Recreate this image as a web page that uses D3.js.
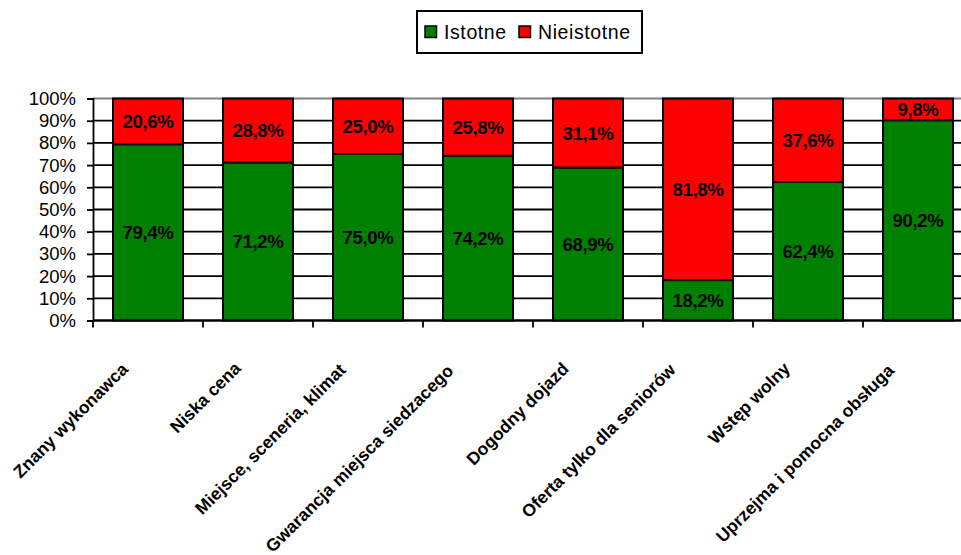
<!DOCTYPE html>
<html>
<head>
<meta charset="utf-8">
<script src="https://cdn.jsdelivr.net/npm/d3@7"></script>
<style>
  html, body { margin: 0; padding: 0; background: #fff; }
  svg { display: block; }
  text { font-family: "Liberation Sans", Arial, sans-serif; }
</style>
</head>
<body>
<svg id="chart" width="961" height="555"></svg>
<script>
// Categories and shares (percent) of respondents
const categories = [
  "Znany wykonawca",
  "Niska cena",
  "Miejsce, sceneria, klimat",
  "Gwarancja miejsca siedzacego",
  "Dogodny dojazd",
  "Oferta tylko dla seniorów",
  "Wstęp wolny",
  "Uprzejma i pomocna obsługa"
];
const istotne    = [79.4, 71.2, 75.0, 74.2, 68.9, 18.2, 62.4, 90.2];
const nieistotne = [20.6, 28.8, 25.0, 25.8, 31.1, 81.8, 37.6, 9.8];
const seriesNames = ["Istotne", "Nieistotne"];
const seriesColors = ["#008000", "#ff0000"];
const yTicks = [0, 10, 20, 30, 40, 50, 60, 70, 80, 90, 100];

const svg = d3.select("#chart");
const plot = { left: 93, right: 973, top: 98.5, bottom: 320.5 };

const x = d3.scaleBand()
  .domain(categories)
  .range([plot.left, plot.right])
  .paddingInner(4 / 11)
  .paddingOuter(2 / 11);

const y = d3.scaleLinear().domain([0, 100]).range([plot.bottom, plot.top]);

const fmt = v => d3.format(".1f")(v).replace(".", ",") + "%";

// Horizontal gridlines
svg.append("g")
  .selectAll("line")
  .data(yTicks)
  .join("line")
  .attr("x1", plot.left)
  .attr("x2", 961)
  .attr("y1", d => y(d))
  .attr("y2", d => y(d))
  .attr("stroke", d => d === 100 ? "#808080" : "#000")
  .attr("stroke-width", 1.8);

// Y axis
const yAxis = svg.append("g")
  .attr("transform", `translate(${plot.left},0)`)
  .call(d3.axisLeft(y).tickValues(yTicks).tickFormat(d => d + "%").tickSize(6).tickPadding(11));
yAxis.select(".domain").attr("stroke", "#000").attr("stroke-width", 1.8);
yAxis.selectAll(".tick line").attr("stroke", "#000").attr("stroke-width", 1.8);
yAxis.selectAll(".tick text")
  .attr("font-size", 18.5)
  .attr("fill", "#000")
  .attr("font-family", "Liberation Sans, Arial, sans-serif");

// Stacked data
const rows = categories.map((c, i) => ({ cat: c, Istotne: istotne[i], Nieistotne: nieistotne[i] }));
const stacked = d3.stack().keys(seriesNames)(rows);

const layers = svg.append("g")
  .selectAll("g")
  .data(stacked)
  .join("g")
  .attr("fill", (d, i) => seriesColors[i]);

layers.selectAll("rect")
  .data(d => d)
  .join("rect")
  .attr("x", d => x(d.data.cat))
  .attr("width", x.bandwidth())
  .attr("y", d => y(d[1]))
  .attr("height", d => y(d[0]) - y(d[1]))
  .attr("stroke", "#000")
  .attr("stroke-width", 2);

// Value labels centred in each segment
layers.selectAll("text")
  .data(d => d.map(s => ({ s, key: d.key })))
  .join("text")
  .attr("x", d => x(d.s.data.cat) + x.bandwidth() / 2)
  .attr("y", d => (y(d.s[0]) + y(d.s[1])) / 2)
  .attr("dy", "0.36em")
  .attr("text-anchor", "middle")
  .attr("font-size", 18.5)
  .attr("letter-spacing", "-0.3px")
  .attr("font-weight", "bold")
  .attr("fill", "#000")
  .text(d => fmt(d.s.data[d.key]));

// X axis line with ticks at category boundaries
svg.append("line")
  .attr("x1", plot.left).attr("x2", 961)
  .attr("y1", plot.bottom).attr("y2", plot.bottom)
  .attr("stroke", "#000").attr("stroke-width", 1.8);

const step = x.step();
svg.append("g")
  .selectAll("line")
  .data(categories)
  .join("line")
  .attr("x1", d => x(d) - x.paddingOuter() * step)
  .attr("x2", d => x(d) - x.paddingOuter() * step)
  .attr("y1", plot.bottom)
  .attr("y2", plot.bottom + 7)
  .attr("stroke", "#000")
  .attr("stroke-width", 1.8);

// Rotated category labels
svg.append("g")
  .selectAll("text")
  .data(categories)
  .join("text")
  .attr("text-anchor", "end")
  .attr("font-size", 17.5)
  .attr("font-weight", "bold")
  .attr("fill", "#000")
  .text(d => d)
  .each(function (d) {
    const len = this.getComputedTextLength();
    const cx = x(d) + x.bandwidth() / 2 - 12 - len * 0.045;
    const cy = 368 + len * 0.015;
    d3.select(this).attr("transform", `translate(${cx},${cy}) rotate(-45)`);
  });

// Legend
const legend = svg.append("g");
legend.append("rect")
  .attr("x", 417).attr("y", 11)
  .attr("width", 225).attr("height", 42)
  .attr("fill", "#fff")
  .attr("stroke", "#000")
  .attr("stroke-width", 2);

const legendX = [425, 519];
seriesNames.forEach((name, i) => {
  legend.append("rect")
    .attr("x", legendX[i]).attr("y", 26)
    .attr("width", 11.5).attr("height", 11.5)
    .attr("fill", seriesColors[i])
    .attr("stroke", "#000")
    .attr("stroke-width", 1.5);
  legend.append("text")
    .attr("x", legendX[i] + 19)
    .attr("y", 39)
    .attr("font-size", 19.5)
    .attr("letter-spacing", "0.6px")
    .attr("fill", "#000")
    .text(name);
});
</script>
</body>
</html>
